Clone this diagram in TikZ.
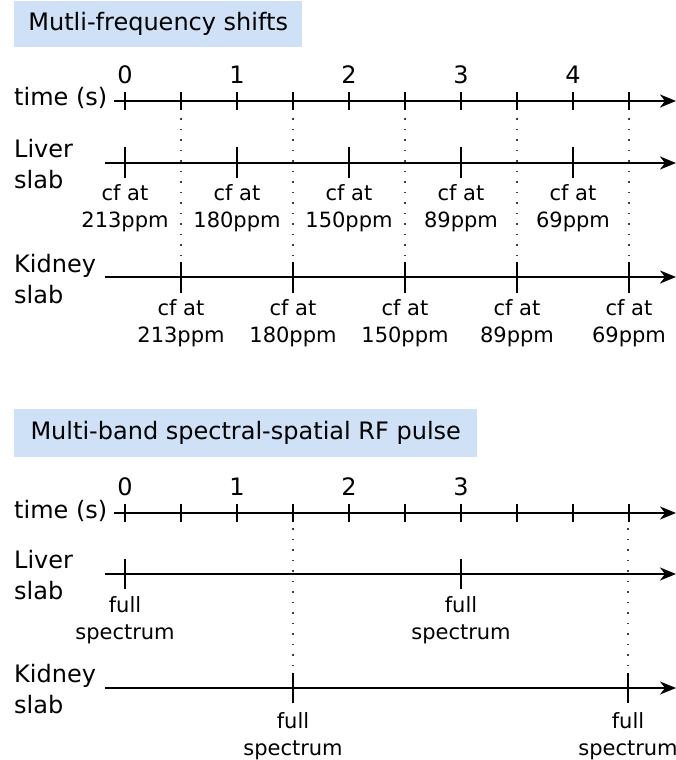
\documentclass[tikz,border=0pt]{standalone}
\usepackage{fontspec}
\setmainfont{DejaVu Sans}
\usetikzlibrary{arrows.meta}
\definecolor{titlebg}{RGB}{207,225,246}
\begin{document}
\begin{tikzpicture}[x=1pt,y=-1pt,
  axisline/.style={line width=2.2pt,-{Stealth[length=16pt,width=13pt,inset=5pt]}},
  ttick/.style={line width=1.8pt},
  stick/.style={line width=2.2pt},
  guide/.style={line width=1.5pt,dash pattern=on 1.5pt off 9pt,black!75},
  big/.style={font=\fontsize{24}{31}\selectfont,inner sep=0pt},
  lab/.style={font=\fontsize{21}{27}\selectfont,inner sep=0pt,align=center,anchor=north},
  titlebox/.style={fill=titlebg,font=\fontsize{24}{29}\selectfont,inner sep=0pt,anchor=north west}]
\useasboundingbox (0,0) rectangle (676,760);

% ---------------- Section 1 ----------------
\node[titlebox,minimum width=288pt,minimum height=46pt] (t1) at (14,1) {Mutli-frequency shifts};

\node[big,anchor=base west] (time1) at (14,105.5) {time (s)};
\node[big,anchor=north west,align=left] (liver1) at (14,139) {Liver\\slab};
\node[big,anchor=north west,align=left] (kidney1) at (14,254) {Kidney\\slab};

\coordinate (ta1) at (114,101);  \coordinate (te1) at (676,101);
\coordinate (la1) at (105,163);  \coordinate (le1) at (676,163);
\coordinate (ka1) at (105,277);  \coordinate (ke1) at (676,277);
\draw[axisline] (ta1) -- (te1);
\draw[axisline] (la1) -- (le1);
\draw[axisline] (ka1) -- (ke1);

\foreach \k in {0,...,9} \draw[ttick] ({125+56*\k},92) -- ({125+56*\k},110);
\foreach \k in {0,...,4} \node[big,anchor=base] (n1\k) at ({125+112*\k},83) {\k};

\foreach \k/\v in {0/213,1/180,2/150,3/89,4/69} {
  \draw[stick] ({125+112*\k},147) -- ({125+112*\k},178);
  \node[lab] (l1\k) at ({125+112*\k},184) {cf at\\\v ppm};
  \draw[guide] ({181+112*\k},118) -- ({181+112*\k},258);
  \draw[stick] ({181+112*\k},262) -- ({181+112*\k},293);
  \node[lab] (k1\k) at ({181+112*\k},299) {cf at\\\v ppm};
}

% ---------------- Section 2 ----------------
\node[titlebox,minimum width=463pt,minimum height=48pt] (t2) at (14,409) {Multi-band spectral-spatial RF pulse};

\node[big,anchor=base west] (time2) at (14,518) {time (s)};
\node[big,anchor=north west,align=left] (liver2) at (14,550) {Liver\\slab};
\node[big,anchor=north west,align=left] (kidney2) at (14,664) {Kidney\\slab};

\coordinate (ta2) at (114,513);  \coordinate (te2) at (676,513);
\coordinate (la2) at (105,574);  \coordinate (le2) at (676,574);
\coordinate (ka2) at (105,688);  \coordinate (ke2) at (676,688);
\draw[axisline] (ta2) -- (te2);
\draw[axisline] (la2) -- (le2);
\draw[axisline] (ka2) -- (ke2);

\foreach \k in {0,...,9} \draw[ttick] ({125+56*\k},504) -- ({125+56*\k},522);
\foreach \k in {0,...,3} \node[big,anchor=base] (n2\k) at ({125+112*\k},495) {\k};

\foreach \x in {125,461} {
  \draw[stick] (\x,559) -- (\x,589);
  \node[lab] (lf\x) at (\x,596) {full\\spectrum};
}
\foreach \x in {293,628} {
  \draw[guide] (\x,528) -- (\x,668);
  \draw[stick] (\x,673) -- (\x,703);
  \node[lab] (kf\x) at (\x,712) {full\\spectrum};
}
\end{tikzpicture}
\end{document}
